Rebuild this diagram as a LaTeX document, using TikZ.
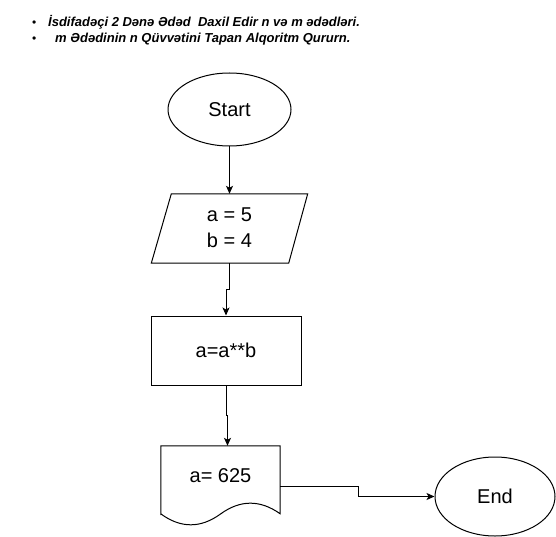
\documentclass[tikz,border=0pt]{standalone}
\usepackage{fontspec}
\setmainfont{Liberation Sans}
\usetikzlibrary{arrows.meta,shapes.geometric,calc,positioning}
\tikzset{
arc/.style={-{Stealth[length=8pt,width=7pt,inset=2pt]},line width=1pt},
term/.style={ellipse,draw,line width=1pt,inner sep=0pt},
proc/.style={rectangle,draw,line width=1pt,inner sep=0pt},
note/.style={anchor=base west,inner sep=0pt,font=\fontsize{13}{15}\selectfont\bfseries\itshape},
dot/.style={anchor=base west,inner sep=0pt,font=\fontsize{12}{14}\selectfont}
}

\begin{document}
\begin{tikzpicture}[x=1pt,y=-1pt,font=\fontsize{20}{24}\selectfont]
			\useasboundingbox (0,0) rectangle (556,537);
			
			%task text
			\node[dot] (b1) at (32,27) {•};
			\node[note] (h1) at (48,27) {İsdifadəçi 2 Dənə Ədəd\ \ Daxil Edir n və m ədədləri.};
			\node[dot] (b2) at (32,43) {•};
			\node[note] (h2) at (55,43) {m Ədədinin n Qüvvətini Tapan Alqoritm Qururn.};
			
			%shapes of the flowchart
			\node[term,minimum width=123,minimum height=73] (start) at (229.5,109.5) {Start};
			
			\node[align=center,inner sep=0pt,minimum width=156,minimum height=70] (inp) at (229.5,228) {a = 5\\[2pt] b = 4};
			\draw[line width=1pt] ($(inp.north west)+(20,1)$) -- ($(inp.north east)+(0,1)$) -- ($(inp.south east)+(-19,0)$) -- (inp.south west) -- cycle;
			
			\node[proc,minimum width=150,minimum height=69] (calc) at (226,350.5) {a=a**b};
			
			\node[inner sep=0pt,minimum width=119,minimum height=80] (out) at (220.5,486) {};
			\draw[line width=1pt] (out.south west) ++(0,-12) |- (out.north east) -- ++(0,68)
				.. controls (260.17,499.6) and (240.33,499.6) .. (220.5,514)
				.. controls (200.67,528.4) and (180.83,528.4) .. (161,514) -- cycle;
			\node (outtext) at ($(out)+(0,-10)$) {a= 625};
			
			\node[term,minimum width=120,minimum height=79] (stop) at (495,496.5) {End};
			
			%connectors
			\coordinate (outin) at ($(out.north)+(7,0)$);
			\draw[arc] (start) -- ($(inp.north)+(0,1)$);
			\draw[arc] (inp.south) -- ++(0,26) -| (calc.north);
			\draw[arc] (calc.south) -- ++(0,30) -| (outin);
			\draw[arc] (out.east) -- ++(78,0) |- (stop.west);
			
\end{tikzpicture}
\end{document}
